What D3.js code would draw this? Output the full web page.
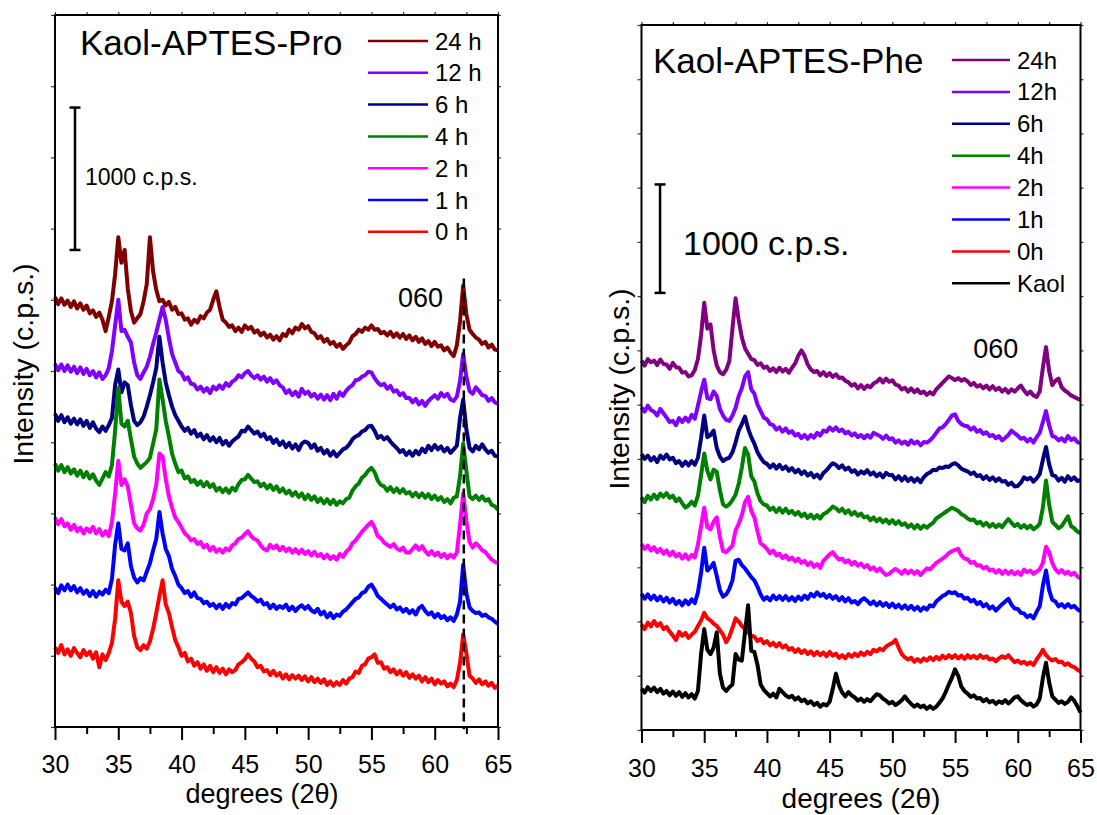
<!DOCTYPE html>
<html>
<head>
<meta charset="utf-8">
<script src="https://cdn.jsdelivr.net/npm/d3@7"></script>
<style>
  html, body { margin: 0; padding: 0; background: #fff; }
  svg { display: block; font-family: "Liberation Sans", Arial, sans-serif; }
</style>
</head>
<body>
<svg id="chart" width="1097" height="815"></svg>
<script>
// 2θ sampling grid shared by every diffractogram: 30°–65° in 0.25° steps
const twoTheta = d3.range(141).map(i => 30 + i * 0.25);

const xMajorTicks = [30, 35, 40, 45, 50, 55, 60, 65];
const xMinorTicks = [32.5, 37.5, 42.5, 47.5, 52.5, 57.5, 62.5];
const yTicksPro = [0, 500, 1000, 1500, 2000, 2500, 3000, 3500, 4000, 4500, 5000];
const yTicksPhe = [0, 500, 1000, 1500, 2000, 2500, 3000, 3500, 4000, 4500, 5000, 5500, 6000, 6500];

// ---- Kaol-APTES-Pro (stacked, c.p.s.) ----
const pro24h = [
  3020, 2970, 3010, 2965,  2995, 2950, 2990, 2940,  2975, 2930, 2960, 2905,  2925, 2880, 2910, 2860,
  2780, 2880, 2990, 3180,  3440, 3260, 3350, 3080,  2920, 2840, 2870, 2900,  2990, 3110, 3440, 3200,
  3070, 2990, 3000, 2960,  2985, 2930, 2950, 2900,  2905, 2860, 2870, 2825,  2860, 2840, 2885, 2870,
  2910, 2930, 3000, 3060,  2950, 2860, 2840, 2810,  2820, 2780, 2805, 2775,  2820, 2795, 2810, 2770,
  2785, 2750, 2770, 2735,  2755, 2720, 2745, 2715,  2760, 2745, 2790, 2765,  2805, 2790, 2830, 2800,
  2815, 2775, 2765, 2730,  2745, 2705, 2725, 2690,  2705, 2670, 2690, 2655,  2680, 2700, 2745, 2760,
  2790, 2775, 2805, 2790,  2820, 2790, 2795, 2765,  2775, 2750, 2775, 2740,  2765, 2735, 2760, 2725,
  2750, 2715, 2740, 2705,  2730, 2690, 2710, 2675,  2705, 2670, 2680, 2645,  2665, 2630, 2605, 2680,
  2850, 3100, 2900, 2790,  2760, 2735, 2720, 2690,  2705, 2665, 2685, 2650,  2645
];
const pro12h = [
  2550, 2505, 2545, 2500,  2540, 2495, 2530, 2485,  2525, 2480, 2515, 2470,  2500, 2455, 2490, 2445,
  2470, 2520, 2640, 2820,  3000, 2780, 2790, 2740,  2700, 2560, 2470, 2445,  2490, 2530, 2600, 2690,
  2770, 2860, 2950, 2860,  2730, 2620, 2560, 2500,  2485, 2440, 2455, 2410,  2405, 2370, 2390, 2355,
  2380, 2345, 2390, 2370,  2400, 2375, 2415, 2395,  2425, 2440, 2470, 2455,  2485, 2500, 2470, 2450,
  2470, 2440, 2460, 2425,  2450, 2415, 2435, 2400,  2385, 2345, 2365, 2330,  2355, 2320, 2375, 2340,
  2355, 2320, 2340, 2305,  2335, 2300, 2330, 2295,  2340, 2305, 2350, 2325,  2360, 2385, 2400, 2435,
  2440, 2460, 2470, 2495,  2490, 2450, 2420, 2400,  2410, 2375, 2395, 2355,  2365, 2330, 2345, 2310,
  2310, 2280, 2305, 2265,  2290, 2255, 2290, 2310,  2330, 2305, 2345, 2320,  2340, 2300, 2290, 2320,
  2430, 2620, 2460, 2360,  2340, 2385, 2360, 2330,  2325, 2290, 2310, 2280,  2270
];
const pro6h = [
  2200, 2150, 2190, 2140,  2175, 2130, 2165, 2125,  2160, 2115, 2150, 2100,  2140, 2095, 2070, 2110,
  2080, 2120, 2170, 2400,  2510, 2350, 2420, 2400,  2260, 2150, 2120, 2140,  2180, 2250, 2330, 2420,
  2520, 2740, 2560, 2420,  2330, 2250, 2190, 2150,  2110, 2080, 2100, 2060,  2085, 2040, 2060, 2020,
  2050, 2010, 2035, 2000,  2030, 1985, 2010, 1975,  2005, 2025, 2040, 2080,  2075, 2110, 2085, 2060,
  2075, 2040, 2060, 2020,  2035, 1995, 2020, 1980,  2005, 1965, 1995, 1955,  1985, 1945, 1990, 2005,
  1995, 1960, 1985, 1940,  1960, 1920, 1945, 1905,  1935, 1900, 1925, 1950,  1960, 1985, 2020, 2040,
  2050, 2075, 2085, 2110,  2115, 2080, 2030, 2045,  2020, 2035, 2005, 1980,  1960, 1930, 1945, 1910,
  1935, 1905, 1940, 1915,  1955, 1930, 1975, 1945,  1980, 1950, 1970, 1935,  1960, 1925, 1950, 1975,
  2170, 2300, 2090, 1960,  1935, 1975, 1950, 1985,  1950, 1925, 1940, 1905,  1900
];
const pro4h = [
  1850, 1800, 1840, 1790,  1825, 1780, 1810, 1765,  1800, 1755, 1790, 1745,  1775, 1730, 1700, 1745,
  1790, 1760, 1840, 2080,  2380, 2130, 2110, 2150,  2020, 1900, 1850, 1820,  1840, 1860, 1890, 1990,
  2090, 2440, 2300, 2150,  2040, 1920, 1850, 1790,  1800, 1745, 1760, 1720,  1735, 1700, 1725, 1690,
  1720, 1685, 1705, 1660,  1680, 1650, 1675, 1645,  1680, 1660, 1705, 1735,  1740, 1770, 1745, 1720,
  1725, 1690, 1710, 1675,  1700, 1665, 1690, 1650,  1675, 1640, 1660, 1625,  1650, 1615, 1640, 1600,
  1630, 1595, 1620, 1580,  1605, 1570, 1600, 1565,  1595, 1560, 1585, 1570,  1600, 1610, 1660, 1690,
  1710, 1750, 1770, 1800,  1820, 1790, 1730, 1700,  1690, 1660, 1685, 1650,  1675, 1645, 1670, 1640,
  1650, 1620, 1645, 1615,  1640, 1610, 1635, 1600,  1625, 1595, 1615, 1580,  1600, 1570, 1610, 1620,
  1760, 1990, 1800, 1620,  1600, 1625, 1595, 1620,  1590, 1600, 1560, 1550,  1525
];
const pro2h = [
  1470, 1425, 1460, 1410,  1430, 1385, 1420, 1375,  1400, 1360, 1395, 1370,  1405, 1360, 1390, 1345,
  1375, 1340, 1440, 1640,  1870, 1700, 1740, 1690,  1560, 1430, 1395, 1380,  1420, 1500, 1530, 1600,
  1700, 1920, 1900, 1740,  1620, 1540, 1470, 1440,  1400, 1360, 1340, 1310,  1320, 1285, 1300, 1260,
  1280, 1240, 1265, 1230,  1250, 1225, 1255, 1240,  1275, 1290, 1320, 1330,  1355, 1375, 1340, 1320,
  1310, 1275, 1250, 1240,  1280, 1255, 1275, 1240,  1265, 1235, 1255, 1225,  1250, 1220, 1245, 1215,
  1235, 1205, 1230, 1200,  1215, 1185, 1210, 1180,  1200, 1175, 1215, 1195,  1230, 1250, 1290, 1310,
  1340, 1370, 1395, 1420,  1440, 1400, 1340, 1325,  1295, 1280, 1265, 1285,  1255, 1240, 1260, 1225,
  1225, 1250, 1275, 1245,  1270, 1235, 1210, 1235,  1205, 1225, 1195, 1215,  1185, 1210, 1190, 1225,
  1420, 1640, 1450, 1300,  1260, 1290, 1270, 1240,  1230, 1200, 1175, 1160,  1150
];
const pro1h = [
  980, 940, 995, 960,  1000, 960, 990, 945,  975, 935, 960, 920,  955, 915, 950, 930,
  965, 940, 1040, 1280,  1430, 1250, 1240, 1290,  1130, 1050, 1015, 1045,  1030, 1090, 1150, 1240,
  1320, 1510, 1360, 1250,  1200, 1110, 1060, 1000,  975, 940, 955, 915,  945, 905, 900, 870,
  880, 850, 865, 835,  860, 830, 865, 840,  870, 860, 900, 905,  925, 945, 920, 905,
  880, 895, 860, 870,  835, 860, 830, 850,  835, 860, 820, 845,  815, 840, 855, 830,
  850, 820, 805, 830,  790, 810, 770, 800,  765, 790, 780, 810,  825, 850, 875, 900,
  910, 940, 950, 985,  1000, 965, 920, 900,  880, 860, 840, 860,  825, 840, 810, 830,
  800, 820, 790, 835,  850, 815, 790, 805,  770, 795, 765, 780,  750, 770, 745, 790,
  880, 1140, 940, 840,  815, 800, 805, 780,  790, 770, 760, 740,  725
];
const pro0h = [
  560, 520, 575, 510,  545, 500, 555, 520,  490, 540, 505, 530,  480, 525, 420, 510,
  470, 520, 590, 760,  1030, 880, 850, 880,  800, 640, 560, 540,  575, 550, 600, 690,
  800, 920, 1030, 860,  800, 700, 610, 560,  500, 520, 460, 480,  430, 455, 410, 440,
  395, 430, 385, 420,  380, 410, 370, 405,  385, 400, 440, 455,  475, 510, 480, 460,
  420, 430, 390, 400,  365, 395, 360, 380,  340, 370, 335, 365,  340, 360, 330, 355,
  320, 350, 315, 340,  310, 335, 295, 320,  290, 315, 295, 330,  305, 340, 350, 390,
  380, 430, 440, 480,  490, 510, 450, 455,  410, 420, 385, 405,  370, 395, 360, 385,
  345, 370, 340, 360,  320, 350, 315, 340,  300, 330, 305, 320,  285, 305, 280, 330,
  450, 650, 520, 360,  340, 310, 335, 300,  320, 290, 310, 275,  290
];

// ---- Kaol-APTES-Phe (stacked, c.p.s.) ----
const phe24h = [
  3405, 3360, 3420, 3390,  3405, 3365, 3415, 3375,  3370, 3330, 3385, 3345,  3340, 3295, 3300, 3260,
  3270, 3320, 3420, 3640,  3940, 3700, 3740, 3500,  3360, 3300, 3280, 3320,  3400, 3700, 3980, 3780,
  3620, 3520, 3470, 3420,  3410, 3365, 3380, 3340,  3350, 3310, 3335, 3300,  3340, 3305, 3330, 3295,
  3340, 3380, 3450, 3500,  3450, 3370, 3325, 3300,  3310, 3270, 3300, 3265,  3290, 3255, 3280, 3245,
  3250, 3220, 3205, 3175,  3190, 3150, 3180, 3145,  3175, 3160, 3195, 3210,  3240, 3205, 3240, 3210,
  3225, 3185, 3175, 3140,  3155, 3120, 3150, 3115,  3140, 3105, 3120, 3090,  3115, 3095, 3140, 3170,
  3200, 3230, 3260, 3245,  3225, 3245, 3220, 3235,  3215, 3180, 3200, 3165,  3180, 3150, 3175, 3140,
  3170, 3135, 3155, 3120,  3145, 3110, 3140, 3120,  3150, 3175, 3130, 3095,  3120, 3085, 3070, 3120,
  3340, 3530, 3310, 3180,  3220, 3240, 3160, 3130,  3110, 3085, 3070, 3055,  3045
];
const phe12h = [
  2975, 2935, 2990, 2950,  2935, 2900, 2960, 2920,  2880, 2840, 2850, 2810,  2875, 2840, 2880, 2845,
  2905, 2870, 2990, 3120,  3230, 3060, 3050, 3120,  3080, 2960, 2900, 2860,  2850, 2900, 2970, 3080,
  3150, 3260, 3300, 3140,  3100, 3000, 2940, 2880,  2865, 2820, 2810, 2770,  2790, 2750, 2780, 2740,
  2755, 2715, 2730, 2690,  2720, 2685, 2720, 2695,  2740, 2715, 2760, 2750,  2790, 2760, 2790, 2755,
  2770, 2735, 2750, 2715,  2735, 2700, 2720, 2690,  2720, 2695, 2740, 2725,  2710, 2685, 2715, 2680,
  2690, 2650, 2670, 2640,  2660, 2630, 2670, 2640,  2660, 2625, 2655, 2650,  2670, 2700, 2740, 2780,
  2790, 2820, 2860, 2900,  2910, 2850, 2820, 2805,  2800, 2770, 2790, 2750,  2765, 2730, 2745, 2710,
  2720, 2690, 2710, 2670,  2695, 2720, 2760, 2735,  2715, 2685, 2695, 2660,  2685, 2650, 2700, 2740,
  2840, 2940, 2810, 2710,  2700, 2670, 2690, 2660,  2710, 2675, 2690, 2655,  2645
];
const phe6h = [
  2545, 2500, 2530, 2485,  2515, 2470, 2530, 2500,  2540, 2495, 2510, 2460,  2480, 2435, 2475, 2440,
  2480, 2445, 2510, 2690,  2900, 2700, 2720, 2760,  2600, 2520, 2480, 2500,  2510, 2560, 2650, 2760,
  2820, 2890, 2780, 2700,  2640, 2560, 2510, 2470,  2455, 2420, 2450, 2410,  2445, 2405, 2430, 2390,
  2415, 2375, 2400, 2360,  2385, 2345, 2370, 2330,  2355, 2320, 2370, 2395,  2430, 2460, 2445, 2415,
  2440, 2400, 2420, 2380,  2395, 2355, 2385, 2365,  2395, 2355, 2375, 2340,  2365, 2330, 2370, 2350,
  2350, 2310, 2340, 2300,  2335, 2295, 2325, 2290,  2320, 2285, 2330, 2360,  2375, 2400, 2395, 2420,
  2415, 2430, 2425, 2450,  2460, 2440, 2410, 2395,  2385, 2360, 2375, 2340,  2350, 2315, 2340, 2305,
  2330, 2295, 2320, 2290,  2295, 2260, 2280, 2245,  2250, 2280, 2330, 2310,  2325, 2290, 2320, 2360,
  2490, 2610, 2450, 2350,  2340, 2300, 2325, 2290,  2340, 2305, 2330, 2295,  2305
];
const phe4h = [
  2145, 2100, 2160, 2125,  2170, 2130, 2180, 2150,  2185, 2140, 2160, 2110,  2135, 2090, 2050, 2070,
  2105, 2070, 2160, 2350,  2550, 2390, 2310, 2400,  2380, 2210, 2080, 2060,  2080, 2120, 2170, 2270,
  2420, 2600, 2540, 2340,  2290, 2180, 2110, 2080,  2070, 2030, 2050, 2010,  2045, 2005, 2040, 2000,
  2020, 1985, 2010, 1970,  1995, 1955, 1985, 1950,  1980, 1950, 1990, 2005,  2030, 2060, 2045, 2015,
  2040, 2000, 2025, 1985,  2010, 1975, 1995, 1960,  1970, 1935, 1960, 1925,  1950, 1915, 1940, 1905,
  1935, 1900, 1925, 1890,  1905, 1870, 1895, 1860,  1890, 1855, 1885, 1865,  1890, 1910, 1950, 1970,
  1990, 2010, 2030, 2050,  2035, 2020, 1990, 1975,  1950, 1935, 1940, 1905,  1920, 1885, 1910, 1875,
  1900, 1870, 1895, 1870,  1910, 1945, 1910, 1880,  1900, 1865, 1890, 1860,  1885, 1850, 1870, 1900,
  2050, 2300, 2080, 1920,  1890, 1860, 1880, 1925,  1970, 1880, 1860, 1830,  1815
];
const phe2h = [
  1715, 1670, 1700, 1655,  1685, 1640, 1670, 1625,  1655, 1610, 1645, 1600,  1625, 1580, 1620, 1575,
  1615, 1590, 1710, 1880,  2050, 1870, 1850, 1920,  1960, 1780, 1650, 1640,  1670, 1700, 1840, 1900,
  1980, 2100, 2150, 2020,  1960, 1830, 1720, 1700,  1670, 1630, 1655, 1610,  1625, 1585, 1610, 1570,
  1590, 1555, 1580, 1540,  1560, 1520, 1545, 1505,  1530, 1495, 1560, 1590,  1620, 1640, 1600, 1570,
  1580, 1545, 1565, 1525,  1550, 1515, 1535, 1500,  1520, 1480, 1500, 1465,  1490, 1455, 1430, 1440,
  1465, 1485, 1465, 1440,  1475, 1445, 1470, 1440,  1465, 1430, 1460, 1490,  1480, 1510, 1540, 1560,
  1580, 1600, 1630, 1650,  1660, 1670, 1610, 1580,  1575, 1540, 1550, 1515,  1520, 1490, 1505, 1470,
  1480, 1450, 1475, 1440,  1470, 1440, 1465, 1435,  1460, 1430, 1480, 1455,  1470, 1440, 1460, 1480,
  1540, 1690, 1640, 1540,  1480, 1450, 1475, 1440,  1460, 1430, 1450, 1415,  1400
];
const phe1h = [
  1255, 1210, 1250, 1205,  1240, 1195, 1230, 1185,  1220, 1175, 1210, 1160,  1190, 1150, 1195, 1160,
  1205, 1170, 1270, 1450,  1680, 1470, 1500, 1540,  1420, 1290, 1230, 1250,  1300, 1380, 1560, 1570,
  1520, 1490, 1450, 1410,  1380, 1320, 1250, 1200,  1225, 1195, 1240, 1205,  1235, 1200, 1235, 1195,
  1225, 1190, 1230, 1200,  1240, 1210, 1255, 1230,  1270, 1235, 1255, 1220,  1245, 1210, 1235, 1195,
  1225, 1185, 1215, 1175,  1190, 1160, 1195, 1215,  1190, 1160, 1185, 1150,  1180, 1145, 1170, 1135,
  1165, 1130, 1155, 1120,  1150, 1115, 1145, 1110,  1135, 1100, 1130, 1110,  1150, 1140, 1185, 1210,
  1235, 1250, 1275, 1260,  1270, 1240, 1245, 1210,  1220, 1185, 1200, 1160,  1180, 1140, 1160, 1120,
  1140, 1100, 1130, 1160,  1185, 1210, 1155, 1120,  1115, 1080, 1075, 1040,  1060, 1030, 1090, 1140,
  1330, 1470, 1290, 1200,  1185, 1140, 1160, 1130,  1160, 1130, 1145, 1115,  1095
];
const phe0h = [
  975, 930, 990, 955,  1005, 960, 985, 930,  950, 905, 870, 830,  905, 870, 895, 850,
  880, 905, 960, 1010,  1080, 1030, 1010, 980,  960, 920, 880, 810,  860, 940, 1030, 1000,
  960, 930, 900, 870,  860, 820, 840, 800,  820, 780, 805, 770,  800, 760, 780, 740,
  755, 720, 745, 710,  735, 700, 725, 690,  720, 690, 715, 680,  720, 685, 705, 665,
  690, 660, 700, 675,  705, 680, 715, 690,  720, 700, 740, 725,  750, 735, 770, 790,
  800, 830, 760, 700,  670, 650, 665, 630,  655, 630, 660, 640,  670, 645, 675, 650,
  685, 660, 690, 665,  690, 660, 685, 655,  690, 665, 685, 660,  690, 665, 680, 650,
  660, 635, 660, 680,  665, 690, 655, 625,  640, 615, 630, 605,  625, 600, 650, 690,
  740, 690, 660, 640,  655, 625, 630, 600,  615, 590, 580, 555,  540
];
const pheKaol = [
  380, 345, 395, 360,  390, 350, 380, 335,  360, 320, 355, 315,  350, 305, 340, 300,
  330, 290, 360, 700,  930, 740, 700, 760,  900, 520, 390, 360,  395, 420, 700, 650,
  640, 900, 1150, 730,  720, 600, 420, 370,  340, 310, 335, 300,  380, 350, 320, 300,
  315, 280, 300, 265,  280, 245, 265, 230,  250, 215, 240, 225,  260, 380, 520, 410,
  345, 310, 350, 320,  300, 270, 290, 260,  285, 265, 300, 330,  320, 290, 270, 245,
  260, 230, 250, 275,  310, 270, 240, 215,  235, 210, 225, 195,  220, 195, 215, 250,
  290, 350, 420, 480,  560, 500, 400, 360,  335, 305, 320, 290,  295, 265, 285, 255,
  270, 240, 265, 250,  275, 245, 270, 300,  310, 275, 250, 230,  245, 215, 235, 290,
  480, 620, 440, 310,  280, 250, 265, 240,  260, 300, 270, 220,  160
];

const proLabels = ["24 h", "12 h", "6 h", "4 h", "2 h", "1 h", "0 h"];
const proColors = ["#800000", "#8000ff", "#000080", "#008000", "#ff00ff", "#0000ff", "#ff0000"];
const pheLabels = ["24h", "12h", "6h", "4h", "2h", "1h", "0h", "Kaol"];
const pheColors = ["#800080", "#8000ff", "#000080", "#008000", "#ff00ff", "#0000ff", "#ff0000", "#000000"];

const svg = d3.select("#chart");

function drawPanel(cfg) {
  const g = svg.append("g");
  const x = d3.scaleLinear().domain([30, 65]).range([cfg.left, cfg.right]);
  const y = d3.scaleLinear().domain(cfg.yDomain).range([cfg.bottom, cfg.top]);
  const line = d3.line()
    .x((d, i) => x(twoTheta[i]))
    .y(d => y(d));

  // patterns: uppermost first, so each lower trace sits on top of the one above
  cfg.series.forEach((vals, k) => {
    g.append("path")
      .datum(vals)
      .attr("d", line)
      .attr("fill", "none")
      .attr("stroke", cfg.colors[k])
      .attr("stroke-width", 4)
      .attr("stroke-linejoin", "round");
  });

  // bottom axis: major ticks with labels, minor ticks without
  const bottom = g.append("g").attr("transform", `translate(0,${cfg.bottom})`)
    .call(d3.axisBottom(x).tickValues(xMajorTicks).tickSize(13).tickSizeOuter(0)
      .tickPadding(cfg.tickPad).tickFormat(d3.format("d")));
  bottom.selectAll("text").attr("font-size", 25).attr("fill", "#000")
    .attr("font-family", '"Liberation Sans", Arial, sans-serif');
  const minor = g.append("g").attr("transform", `translate(0,${cfg.bottom})`)
    .call(d3.axisBottom(x).tickValues(xMinorTicks).tickSize(7).tickFormat(""));
  [bottom, minor].forEach(a => {
    a.select(".domain").remove();
    a.selectAll(".tick line").attr("stroke", "#000").attr("stroke-width", 2);
  });

  // faint outward ticks on the top, left and right edges
  const top = g.append("g").attr("transform", `translate(0,${cfg.top})`)
    .call(d3.axisTop(x).tickValues(xMajorTicks.concat(xMinorTicks)).tickSize(3).tickFormat(""));
  const leftAx = g.append("g").attr("transform", `translate(${cfg.left},0)`)
    .call(d3.axisLeft(y).tickValues(cfg.yTicks).tickSize(4).tickFormat(""));
  const rightAx = g.append("g").attr("transform", `translate(${cfg.right},0)`)
    .call(d3.axisRight(y).tickValues(cfg.yTicks).tickSize(3).tickFormat(""));
  [top, leftAx, rightAx].forEach(a => {
    a.select(".domain").remove();
    a.selectAll(".tick line").attr("stroke", "#333").attr("stroke-width", 1.2);
  });

  // frame
  g.append("rect")
    .attr("x", x.range()[0]).attr("y", y.range()[1])
    .attr("width", x.range()[1] - x.range()[0])
    .attr("height", y.range()[0] - y.range()[1])
    .attr("fill", "none").attr("stroke", "#000").attr("stroke-width", 2);

  // 1000 c.p.s. scale bar
  const bx = x(cfg.bar.at);
  const b0 = y(cfg.bar.from), b1 = y(cfg.bar.from + 1000);
  g.append("line").attr("x1", bx).attr("x2", bx).attr("y1", b0).attr("y2", b1)
    .attr("stroke", "#000").attr("stroke-width", 2.5);
  [b0, b1].forEach(yy => g.append("line")
    .attr("x1", bx - 5.5).attr("x2", bx + 5.5).attr("y1", yy).attr("y2", yy)
    .attr("stroke", "#000").attr("stroke-width", 2.5));
  g.append("text").attr("x", cfg.bar.labelX).attr("y", cfg.bar.labelY)
    .attr("font-size", cfg.bar.fontSize).text("1000 c.p.s.");

  // title
  g.append("text").attr("x", cfg.titleX).attr("y", cfg.titleY)
    .attr("font-size", 35).text(cfg.title);

  // legend
  cfg.labels.forEach((lab, k) => {
    const ly = cfg.legend.y0 + k * cfg.legend.dy;
    g.append("line")
      .attr("x1", cfg.legend.x0).attr("x2", cfg.legend.x1)
      .attr("y1", ly).attr("y2", ly)
      .attr("stroke", cfg.colors[k]).attr("stroke-width", 2.5);
    g.append("text").attr("x", cfg.legend.tx).attr("y", ly + 8.5)
      .attr("font-size", 24).text(lab);
  });

  // 060 reflection label
  g.append("text").attr("x", x(cfg.refl.at)).attr("y", y(cfg.refl.cps))
    .attr("font-size", 27).text("060");

  // axis titles
  g.append("text").attr("x", cfg.xLab.x).attr("y", cfg.xLab.y)
    .attr("text-anchor", "middle").attr("font-size", cfg.xLab.size)
    .text("degrees (2θ)");
  g.append("text")
    .attr("transform", `translate(${cfg.yLab.x},${cfg.yLab.y}) rotate(-90)`)
    .attr("text-anchor", "middle").attr("font-size", 28.5)
    .text("Intensity (c.p.s.)");

  return { g, x, y };
}

const pro = drawPanel({
  left: 55, right: 498, top: 15, bottom: 727,
  yDomain: [0, 5000], yTicks: yTicksPro, tickPad: 15,
  series: [pro24h, pro12h, pro6h, pro4h, pro2h, pro1h, pro0h],
  colors: proColors, labels: proLabels,
  bar: { at: 31.58, from: 3350, labelX: 85, labelY: 185, fontSize: 23 },
  title: "Kaol-APTES-Pro", titleX: 80, titleY: 55,
  legend: { x0: 368, x1: 428, tx: 435, y0: 41, dy: 31.8 },
  refl: { at: 57.1, cps: 2950 },
  xLab: { x: 262, y: 803, size: 27 },
  yLab: { x: 33, y: 364 }
});

// dashed guide through the 060 reflection
pro.g.append("line")
  .attr("x1", pro.x(62.3)).attr("x2", pro.x(62.3))
  .attr("y1", pro.y(3150)).attr("y2", pro.y(-15))
  .attr("stroke", "#000").attr("stroke-width", 2.5)
  .attr("stroke-dasharray", "9,5");

drawPanel({
  left: 641.5, right: 1080.5, top: 25, bottom: 730,
  yDomain: [0, 6500], yTicks: yTicksPhe, tickPad: 16,
  series: [phe24h, phe12h, phe6h, phe4h, phe2h, phe1h, phe0h, pheKaol],
  colors: pheColors, labels: pheLabels,
  bar: { at: 31.48, from: 4030, labelX: 683, labelY: 255, fontSize: 34 },
  title: "Kaol-APTES-Phe", titleX: 653, titleY: 73,
  legend: { x0: 952, x1: 1010, tx: 1017, y0: 60, dy: 31.9 },
  refl: { at: 56.44, cps: 3430 },
  xLab: { x: 861, y: 808, size: 28 },
  yLab: { x: 629, y: 389 }
});
</script>
</body>
</html>
